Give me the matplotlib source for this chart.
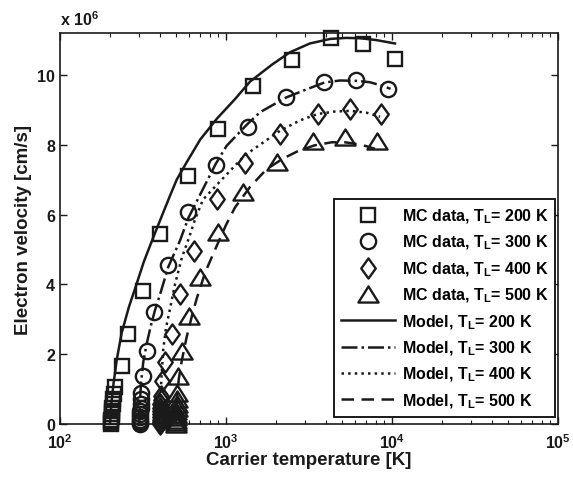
import matplotlib
matplotlib.use('Agg')
import matplotlib.pyplot as plt
from matplotlib.lines import Line2D
from matplotlib.path import Path
from matplotlib.ticker import LogLocator, NullFormatter

plt.rcParams['font.family'] = ['Liberation Sans', 'DejaVu Sans']
plt.rcParams['font.weight'] = 'bold'
plt.rcParams['mathtext.fontset'] = 'custom'
plt.rcParams['mathtext.rm'] = 'Liberation Sans:bold'
plt.rcParams['mathtext.default'] = 'rm'

# Monte Carlo data (carrier temperature [K], velocity [1e6 cm/s])
mc_200_T = [203, 204, 204, 205, 205, 206, 207, 208, 209, 211, 214, 235, 258, 316, 400, 590, 895, 1455, 2500, 4300, 6680, 10420]
mc_200_v = [0.0, 0.06, 0.12, 0.2, 0.28, 0.37, 0.47, 0.58, 0.72, 0.85, 1.06, 1.67, 2.58, 3.81, 5.44, 7.1, 8.45, 9.68, 10.43, 11.06, 10.89, 10.46]

mc_300_T = [302, 303, 303, 304, 304, 305, 306, 307, 308, 309, 318, 333, 370, 449, 593, 867, 1352, 2296, 3908, 6110, 9460]
mc_300_v = [0.0, 0.06, 0.12, 0.2, 0.28, 0.37, 0.47, 0.58, 0.72, 0.9, 1.38, 2.1, 3.2, 4.56, 6.06, 7.43, 8.52, 9.36, 9.81, 9.85, 9.60]

mc_400_T = [401, 401, 401, 402, 402, 402, 403, 403, 404, 405, 410, 430, 471, 528, 645, 879, 1300, 2115, 3565, 5590, 8590]
mc_400_v = [0.0, 0.06, 0.12, 0.2, 0.28, 0.37, 0.47, 0.58, 0.68, 0.81, 1.24, 1.77, 2.58, 3.72, 4.95, 6.45, 7.48, 8.31, 8.88, 9.03, 8.88]

mc_500_T = [501, 501, 502, 502, 503, 503, 504, 505, 505, 506, 516, 541, 600, 697, 900, 1270, 2018, 3360, 5210, 8090]
mc_500_v = [0.0, 0.06, 0.12, 0.2, 0.28, 0.37, 0.47, 0.58, 0.72, 0.9, 1.38, 2.1, 3.08, 4.2, 5.49, 6.64, 7.5, 8.12, 8.21, 8.12]

# model curves
mod_200_T = [200, 204, 210, 220, 235, 260, 283, 320, 365, 410, 460, 505, 580, 700, 879, 1130, 1397, 1900, 2433, 3200, 4236, 5300, 6414, 8000, 10420]
mod_200_v = [0, 0.6, 1.15, 1.85, 2.6, 3.35, 3.87, 4.65, 5.35, 5.95, 6.54, 7.0, 7.5, 8.15, 8.74, 9.3, 9.81, 10.3, 10.65, 10.9, 11.03, 11.06, 11.05, 11.0, 10.9]

mod_300_T = [300, 303, 308, 318, 333, 352, 373, 400, 449, 528, 593, 678, 867, 1009, 1352, 1603, 2296, 2924, 3908, 4864, 6110, 7362, 8870, 9800]
mod_300_v = [0, 0.6, 1.2, 1.8, 2.3, 2.8, 3.25, 3.7, 4.5, 5.25, 5.9, 6.45, 7.45, 7.97, 8.6, 8.93, 9.35, 9.55, 9.78, 9.84, 9.83, 9.79, 9.68, 9.6]

mod_400_T = [400, 402, 406, 412, 419, 435, 460, 490, 541, 600, 650, 727, 900, 1107, 1300, 1603, 2115, 2800, 3565, 4500, 5590, 7000, 8470]
mod_400_v = [0, 0.6, 1.1, 1.6, 2.15, 2.75, 3.3, 3.95, 4.75, 5.35, 5.85, 6.43, 6.9, 7.35, 7.7, 8.0, 8.4, 8.7, 8.88, 8.95, 8.97, 8.92, 8.8]

mod_500_T = [500, 503, 510, 520, 541, 580, 620, 665, 750, 879, 1000, 1132, 1400, 1757, 2200, 2667, 3400, 4335, 5200, 6125, 7000, 7900]
mod_500_v = [0, 0.5, 0.9, 1.3, 1.8, 2.5, 3.05, 3.58, 4.35, 5.1, 5.7, 6.2, 6.8, 7.3, 7.6, 7.8, 7.98, 8.07, 8.07, 8.02, 7.96, 7.88]

lattice_T = [200, 300, 400, 500]
ink = '#1a1a1a'

# MATLAB-like diamond and triangle outlines
diamond = Path([(0, 1), (0.72, 0), (0, -1), (-0.72, 0), (0, 1)], closed=True)
triangle = Path([(-1, -0.8), (1, -0.8), (0, 0.8), (-1, -0.8)], closed=True)

fig = plt.figure(figsize=(5.73, 4.81), dpi=100)
ax = fig.add_axes([0.1047, 0.1164, 0.8691, 0.8129])

mc_sets = [(mc_200_T, mc_200_v, 's', 9.5), (mc_300_T, mc_300_v, 'o', 11.0),
           (mc_400_T, mc_400_v, diamond, 14.5), (mc_500_T, mc_500_v, triangle, 14.5)]
mod_sets = [(mod_200_T, mod_200_v, '-'), (mod_300_T, mod_300_v, '-.'),
            (mod_400_T, mod_400_v, ':'), (mod_500_T, mod_500_v, (0, (5, 3)))]

handles = []
labels = []
for (T, v, m, ms), TL in zip(mc_sets, lattice_T):
    ax.plot(T, v, linestyle='none', marker=m, markersize=ms, markerfacecolor='none',
            markeredgecolor=ink, markeredgewidth=1.7, clip_on=False, zorder=3)
    handles.append(Line2D([], [], linestyle='none', marker=m, markersize=ms,
                          markerfacecolor='none', markeredgecolor=ink, markeredgewidth=1.7))
    labels.append('MC data, T$_\\mathregular{L}$= %d K' % TL)

for (T, v, ls), TL in zip(mod_sets, lattice_T):
    ax.plot(T, v, linestyle=ls, color=ink, linewidth=1.8)
    handles.append(Line2D([], [], linestyle=ls, color=ink, linewidth=1.8))
    labels.append('Model, T$_\\mathregular{L}$= %d K' % TL)

ax.set_xscale('log')
ax.set_xlim(1e2, 1e5)
ax.set_ylim(0, 11.2)
ax.set_yticks([0, 2, 4, 6, 8, 10])
ax.xaxis.set_minor_locator(LogLocator(base=10, subs=range(2, 10)))
ax.xaxis.set_minor_formatter(NullFormatter())
ax.tick_params(which='both', direction='in', top=True, right=True, labelsize=11.5, colors=ink)
ax.tick_params(which='major', length=5, width=1)
ax.tick_params(which='minor', length=3, width=0.8)
ax.tick_params(axis='x', which='major', pad=6)
for s in ax.spines.values():
    s.set_linewidth(1.2)
    s.set_color(ink)

ax.set_xlabel('Carrier temperature [K]', fontsize=13.5, fontweight='bold', color=ink, labelpad=0)
ax.set_ylabel('Electron velocity [cm/s]', fontsize=13.5, fontweight='bold', color=ink, labelpad=4)
ax.text(0, 1.012, 'x 10$^\\mathregular{6}$', transform=ax.transAxes, ha='left', va='bottom',
        fontsize=11.5, fontweight='bold', color=ink)

leg = ax.legend(handles, labels, loc='lower right', bbox_to_anchor=(0.995, 0.018),
                fontsize=11.5, handlelength=3.4, handletextpad=0.4, labelspacing=0.5,
                borderpad=0.45, borderaxespad=0, fancybox=False, framealpha=1, edgecolor=ink)
leg.get_frame().set_linewidth(1.4)

fig.savefig('out.png', dpi=100)
